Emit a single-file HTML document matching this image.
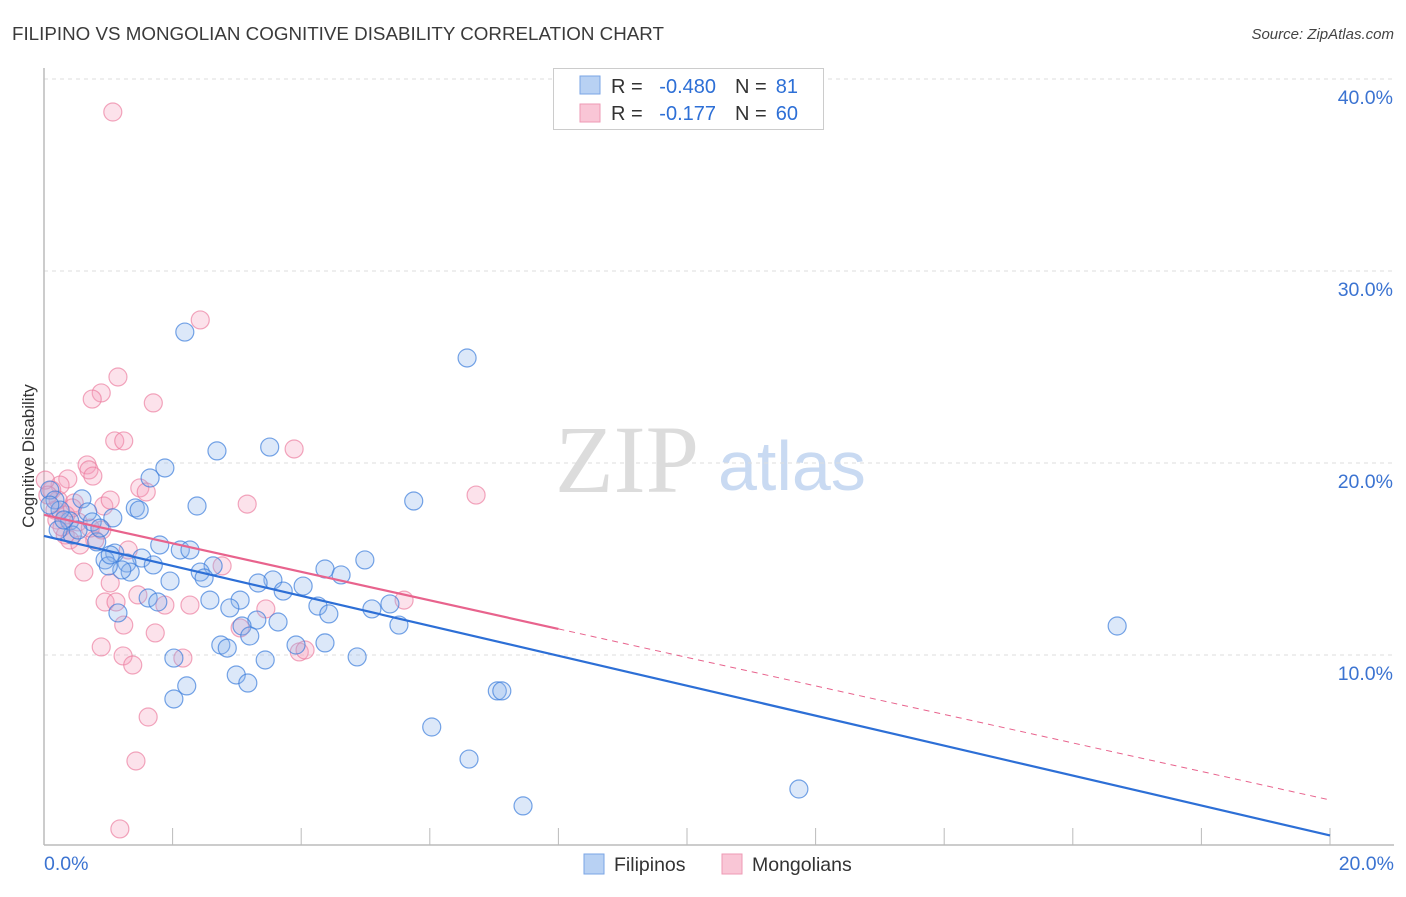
<!DOCTYPE html>
<html><head><meta charset="utf-8"><style>
body{margin:0;background:#fff;width:1406px;height:892px;overflow:hidden;font-family:"Liberation Sans",sans-serif}
</style></head><body>
<svg id="chart" width="1406" height="892" xmlns="http://www.w3.org/2000/svg">
<text x="12" y="40" font-size="18" fill="#3a3a3a" textLength="652" lengthAdjust="spacingAndGlyphs">FILIPINO VS MONGOLIAN COGNITIVE DISABILITY CORRELATION CHART</text>
<text x="1394" y="39" font-size="15" font-style="italic" fill="#444" text-anchor="end">Source: ZipAtlas.com</text>
<text transform="translate(34,456) rotate(-90)" font-size="17" fill="#333" text-anchor="middle">Cognitive Disability</text>
<g>
<text x="555" y="492" font-family="Liberation Serif,serif" font-size="96" fill="#dcdcdc">ZIP</text>
<text x="718" y="490" font-size="70" fill="#c9daf2">atlas</text>
</g>
<g id="grid"></g><g id="axes"></g><g id="pts"></g><g id="lines"></g>
<g>
<rect x="553.5" y="68.5" width="270" height="61" fill="#fff" stroke="#ccc"/>
<rect x="580" y="76" width="20" height="18" fill="#b8d1f3" stroke="#7aa5e6"/>
<rect x="580" y="104" width="20" height="18" fill="#f9c6d6" stroke="#ee9ab4"/>
<g font-size="20" fill="#333">
<text x="611" y="93">R =</text>
<text x="716" y="93" text-anchor="end" fill="#2d6fd6">-0.480</text>
<text x="735" y="93">N =</text>
<text x="798" y="93" text-anchor="end" fill="#2d6fd6">81</text>
<text x="611" y="120">R =</text>
<text x="716" y="120" text-anchor="end" fill="#2d6fd6">-0.177</text>
<text x="735" y="120">N =</text>
<text x="798" y="120" text-anchor="end" fill="#2d6fd6">60</text>
</g>
</g>
<g>
<rect x="584" y="854" width="20" height="20" fill="#b8d1f3" stroke="#7aa5e6"/>
<text x="614" y="871" font-size="19.5" fill="#333">Filipinos</text>
<rect x="722" y="854" width="20" height="20" fill="#f9c6d6" stroke="#ee9ab4"/>
<text x="752" y="871" font-size="19.5" fill="#333">Mongolians</text>
</g>
</svg>
<script>
const yTicks=[10,20,30,40];
const xTickLabels=["0.0%","20.0%"];
const filX=[2.19,6.58,2.69,3.51,1.88,1.65,2.38,1.42,1.48,5.75,1.07,0.59,0.68,0.75,0.40,0.44,0.82,0.22,0.09,0.17,0.25,1.80,2.12,2.27,1.10,0.95,1.52,1.29,1.34,1.70,1.21,1.00,2.63,2.43,2.49,1.96,3.56,3.33,4.03,3.72,4.37,4.62,4.99,2.58,3.05,1.62,1.77,2.89,3.31,4.26,4.43,5.10,5.38,1.15,3.64,5.52,3.08,3.20,2.75,2.85,3.92,4.37,4.87,2.02,3.44,16.69,2.99,3.17,2.22,2.02,7.05,7.12,6.03,6.61,7.45,11.74,0.31,0.53,0.87,0.09,1.03];
const filY=[26.82,25.47,20.63,20.83,19.74,19.22,17.76,17.66,17.55,18.02,17.14,18.13,17.45,16.93,16.98,16.25,15.89,16.51,18.59,18.07,17.55,15.73,15.47,15.47,15.31,14.95,15.05,14.79,14.32,14.69,14.43,14.64,14.64,14.32,14.01,13.85,13.91,13.75,13.59,13.33,14.48,14.17,14.95,12.86,12.86,12.97,12.76,12.45,11.82,12.55,12.14,12.40,12.66,12.19,11.72,11.56,11.51,10.99,10.52,10.36,10.52,10.63,9.90,9.84,9.74,11.51,8.96,8.54,8.39,7.71,8.13,8.13,6.25,4.58,2.14,3.02,17.03,16.51,16.61,17.81,15.21];
const monX=[1.07,2.43,1.15,0.89,0.75,1.70,1.10,1.24,3.89,0.67,0.70,0.76,0.37,6.72,1.49,1.59,3.16,0.93,1.03,0.25,0.12,0.02,0.17,0.20,0.33,0.40,0.28,0.53,0.79,0.47,0.90,1.31,0.62,2.77,1.03,0.95,1.12,1.46,1.88,2.27,3.45,5.60,1.24,1.73,3.05,0.89,3.97,4.06,2.16,1.23,1.38,1.62,1.43,1.18,0.22,0.06,0.56,0.34,0.72,0.44];
const monY=[38.28,27.45,24.48,23.65,23.33,23.13,21.15,21.15,20.73,19.90,19.64,19.32,19.17,18.33,18.70,18.49,17.86,17.76,18.07,18.85,18.59,19.11,17.55,17.03,16.25,15.99,16.67,16.93,15.99,17.92,16.51,15.47,14.32,14.64,13.75,12.76,12.76,13.13,12.60,12.60,12.40,12.86,11.56,11.15,11.41,10.42,10.16,10.26,9.84,9.95,9.48,6.77,4.48,0.94,18.07,18.33,15.73,17.29,16.61,17.66];
const filTrend=[16.2,0.6];
const monTrend=[17.3,2.45];
const monSolidEnd=8;
const NS="http://www.w3.org/2000/svg";
const X0=44,X1=1330,Y0=847,PY=19.2;
const sx=v=>X0+(v/20)*(X1-X0), sy=v=>Y0-v*PY;
function mk(tag,attrs,parent){const e=document.createElementNS(NS,tag);for(const k in attrs)e.setAttribute(k,attrs[k]);document.getElementById(parent).appendChild(e);return e;}
yTicks.forEach(t=>{
 const g=mk('line',{x1:44,x2:1394,y1:sy(t),y2:sy(t),stroke:'#ddd','stroke-dasharray':'4,4'},'grid');
 
 
 const l=mk('text',{x:1393,y:sy(t)+25,'font-size':19.5,fill:'#3b73d1','text-anchor':'end'},'grid');
 l.textContent=t.toFixed(1)+'%';
 
 
});
const ax=mk('line',{x1:44,x2:44,y1:68,y2:845,stroke:'#bbb','stroke-width':1.5},'axes');


const bx=mk('line',{x1:44,x2:1394,y1:845,y2:845,stroke:'#bbb','stroke-width':1.5},'axes');


for(let i=1;i<=10;i++){const t=mk('line',{x1:sx(i*2),x2:sx(i*2),y1:828,y2:845,stroke:'#bbb'},'axes');
 
 }
const xl0=mk('text',{x:44,y:870,'font-size':19.5,fill:'#3b73d1'},'axes');xl0.textContent=xTickLabels[0];


const xl1=mk('text',{x:1394,y:870,'font-size':19.5,fill:'#3b73d1','text-anchor':'end'},'axes');xl1.textContent=xTickLabels[1];


monX.forEach((v,i)=>{const c=mk('circle',{cx:sx(v),cy:sy(monY[i]),r:9,fill:'rgba(246,160,188,0.3)',stroke:'rgba(235,120,155,0.65)','stroke-width':1.2},'pts');
 
 });
filX.forEach((v,i)=>{const c=mk('circle',{cx:sx(v),cy:sy(filY[i]),r:9,fill:'rgba(140,180,236,0.3)',stroke:'rgba(60,125,220,0.7)','stroke-width':1.2},'pts');
 
 });
const fl=mk('line',{x1:sx(0),y1:sy(filTrend[0]),x2:sx(20),y2:sy(filTrend[1]),stroke:'#2d6fd6','stroke-width':2.2},'lines');


const mAt=x=>monTrend[0]+(monTrend[1]-monTrend[0])*x/20;
const ml=mk('line',{x1:sx(0),y1:sy(mAt(0)),x2:sx(monSolidEnd),y2:sy(mAt(monSolidEnd)),stroke:'#e8638d','stroke-width':2.2},'lines');


const md=mk('line',{x1:sx(monSolidEnd),y1:sy(mAt(monSolidEnd)),x2:sx(20),y2:sy(mAt(20)),stroke:'#e8638d','stroke-width':1,'stroke-dasharray':'6,5'},'lines');


</script>
</body></html>
